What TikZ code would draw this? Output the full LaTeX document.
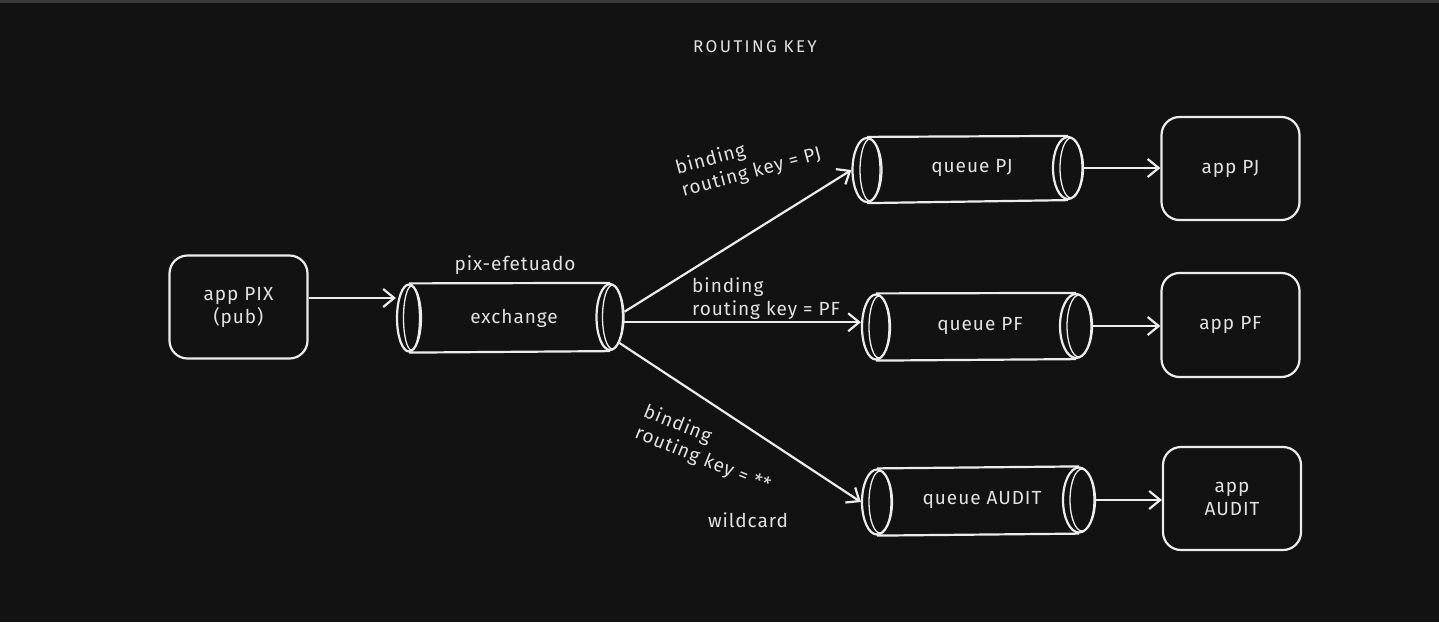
\documentclass[tikz,border=0pt]{standalone}
\usepackage{fontspec}
\setmainfont{Fira Sans}[LetterSpace=5]
\newfontfamily\titlefam{Fira Sans}[LetterSpace=14]
\usetikzlibrary{arrows.meta,shapes.geometric,calc}
\definecolor{bg}{HTML}{121212}
\definecolor{topline}{HTML}{3A3A3A}
\definecolor{ink}{HTML}{ECECEC}
\definecolor{txt}{HTML}{E2E2E2}
\newcommand\handfont{\fontsize{19}{23}\selectfont}
\newcommand\titlefont{\titlefam\fontsize{17}{20}\selectfont}
\begin{document}
\begin{tikzpicture}[x=1pt,y=-1pt,
  appbox/.style={draw=ink, line width=2.2pt, rounded corners=18pt, minimum width=138pt, minimum height=103pt, text=txt, align=center, font=\handfont, inner sep=0pt},
  capnode/.style={draw=ink, line width=2.2pt, ellipse, inner sep=0pt},
  capline/.style={draw=ink, line width=1.3pt},
  bodyline/.style={draw=ink, line width=2.2pt},
  lbl/.style={text=txt, font=\handfont, align=left, inner sep=0pt},
  arr/.style={draw=ink, line width=2.2pt, -{Straight Barb[length=11pt,width=18pt]}}
]
\fill[bg] (0,0) rectangle (1439,622);
\fill[topline] (0,0) rectangle (1439,2.5);
\useasboundingbox (0,0) rectangle (1439,622);

% title
\node[lbl, font=\titlefont] (title) at (755,47) {ROUTING KEY};

% publisher
\node[appbox] (pix) at (238.5,307) {app PIX\\(pub)};

% exchange cylinder
\node[capnode, minimum width=24pt, minimum height=67pt] (exL) at (409,318) {};
\node[capnode, minimum width=27pt, minimum height=66pt] (exR) at (610,317) {};
\draw[bodyline] (exL.north) -- (exR.north);
\draw[bodyline] (exL.south) -- (exR.south);
\draw[capline] ($(exL.center)+(2.5,0)$) ellipse [x radius=8pt, y radius=32pt];
\draw[capline] ($(exR.center)+(2.5,0)$) ellipse [x radius=10pt, y radius=32pt];
\node[lbl] (ex) at (514,318) {exchange};
\node[lbl] (exname) at (515,265) {pix-efetuado};

% queue PJ
\node[capnode, minimum width=29pt, minimum height=64pt] (pjL) at (867,170) {};
\node[capnode, minimum width=30pt, minimum height=62pt] (pjR) at (1068,168) {};
\draw[bodyline] (pjL.north) -- (pjR.north);
\draw[bodyline] (pjL.south) -- (pjR.south);
\draw[capline] ($(pjL.center)+(3,0)$) ellipse [x radius=10pt, y radius=31pt];
\draw[capline] ($(pjR.center)+(3,0)$) ellipse [x radius=11pt, y radius=30pt];
\node[lbl] (pj) at (972,168) {queue PJ};

% queue PF
\node[capnode, minimum width=28pt, minimum height=65pt] (pfL) at (876,327) {};
\node[capnode, minimum width=32pt, minimum height=64pt] (pfR) at (1076,326) {};
\draw[bodyline] (pfL.north) -- (pfR.north);
\draw[bodyline] (pfL.south) -- (pfR.south);
\draw[capline] ($(pfL.center)+(3,0)$) ellipse [x radius=10pt, y radius=31pt];
\draw[capline] ($(pfR.center)+(3,0)$) ellipse [x radius=12pt, y radius=31pt];
\node[lbl] (pf) at (980,326) {queue PF};

% queue AUDIT
\node[capnode, minimum width=30pt, minimum height=65pt] (auL) at (877,502) {};
\node[capnode, minimum width=32pt, minimum height=65pt] (auR) at (1079,500) {};
\draw[bodyline] (auL.north) -- (auR.north);
\draw[bodyline] (auL.south) -- (auR.south);
\draw[capline] ($(auL.center)+(3,0)$) ellipse [x radius=11pt, y radius=31pt];
\draw[capline] ($(auR.center)+(3,0)$) ellipse [x radius=12pt, y radius=31pt];
\node[lbl] (au) at (982,500) {queue AUDIT};

% consumer apps
\node[appbox] (apj) at (1230.5,168.5) {app PJ};
\node[appbox, minimum height=104pt] (apf) at (1230.5,325) {app PF};
\node[appbox] (aau) at (1232,498.5) {app\\AUDIT};

% connectors
\draw[arr] ([yshift=9pt]pix.east) -- ([yshift=9pt]pix.east -| exL.west);
\draw[arr] (exR.20) -- (pjL.west);
\draw[arr] (exR.-20) -- (exR.-20 -| pfL.west);
\draw[arr] (exR.-70) -- (auL.west);
\draw[arr] (pjR.east) -- (pjR.east -| apj.west);
\draw[arr] (pfR.east) -- (pfR.east -| apf.west);
\draw[arr] (auR.east) -- (auR.east -| aau.west);

% binding labels
\node[lbl, anchor=west, rotate=15] (bpj) at (679,180) {binding\\routing key = PJ};
\node[lbl, anchor=west] (bpf) at (692,299) {binding\\routing key = PF};
\node[lbl, anchor=west, rotate=-22] (bau) at (640,422) {binding\\routing key = **};
\node[lbl] (wild) at (748,520) {wildcard};
\end{tikzpicture}
\end{document}
